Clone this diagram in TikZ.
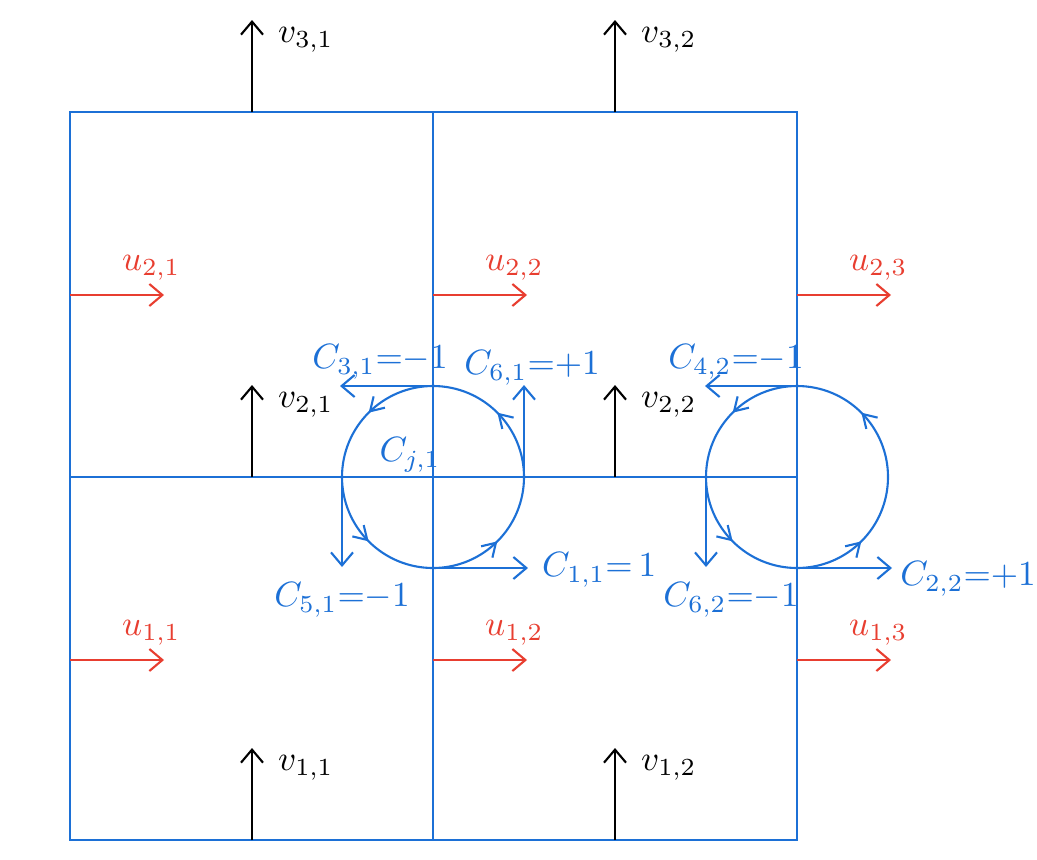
\documentclass[tikz,border=0pt]{standalone}
\usetikzlibrary{decorations.markings,arrows.meta}

\definecolor{gridblue}{RGB}{28,112,214}
\definecolor{ured}{RGB}{232,62,48}

\begin{document}
\begin{tikzpicture}[
    >={Straight Barb[length=1.3mm,width=2.2mm]},
    vel/.style={->,semithick,black},
    uvel/.style={->,semithick,ured},
    cflux/.style={->,semithick,gridblue},
    lab/.style={inner sep=1pt},
    cloop/.style={gridblue,semithick,
        postaction={decorate},
        decoration={markings,mark=between positions 0.125 and 1 step 0.25 with {\arrow{Straight Barb[length=1.3mm,width=1.6mm]}}}}
]
    \useasboundingbox (0,0) rectangle (10.37,8.59);

    % Cells of the grid
    \draw[gridblue,thick] (0.70,0.19) rectangle (7.97,7.47);
    \draw[gridblue,thick] (4.33,0.19) -- (4.33,7.47);
    \draw[gridblue,thick] (0.70,3.82) -- (7.97,3.82);

    % Vertical velocities v_{i,j}
    \foreach \x/\j in {2.52/1,6.15/2} {
        \foreach \y/\i in {0.19/1,3.82/2,7.47/3} {
            \coordinate (v\i\j a) at (\x,\y);
            \coordinate (v\i\j b) at (\x,\y+0.92);
            \draw[vel] (v\i\j a) -- (v\i\j b);
            \node[lab, anchor=west] (lv\i\j) at (\x+0.22,\y+0.72) {$v_{\i,\j}$};
        }
    }

    % Horizontal velocities u_{i,j}
    \foreach \x/\j in {0.70/1,4.33/2,7.97/3} {
        \foreach \y/\i in {1.99/1,5.64/2} {
            \coordinate (u\i\j a) at (\x,\y);
            \coordinate (u\i\j b) at (\x+0.94,\y);
            \draw[uvel] (u\i\j a) -- (u\i\j b);
            \node[lab, ured, anchor=west] (lu\i\j) at (\x+0.48,\y+0.27) {$u_{\i,\j}$};
        }
    }

    % Circulation round the first node
    \coordinate (cj1) at (4.33,3.82);
    \draw[cloop] (cj1) circle (0.91);
    \node[lab, gridblue] (lcj1) at (4.10,4.04) {$C_{j,1}$};
    \coordinate (n1t) at (4.33,4.73);
    \coordinate (n1r) at (5.24,3.82);
    \coordinate (n1l) at (3.42,3.82);
    \coordinate (n1b) at (4.33,2.91);
    \coordinate (c31) at (3.40,4.73);
    \coordinate (c61) at (5.24,4.74);
    \coordinate (c51) at (3.42,2.92);
    \coordinate (c11) at (5.28,2.91);
    \draw[cflux] (n1t) -- (c31);
    \draw[cflux] (n1r) -- (c61);
    \draw[cflux] (n1l) -- (c51);
    \draw[cflux] (n1b) -- (c11);
    \node[lab, gridblue] (l31) at (3.80,4.97) {$C_{3,1}{=}{-1}$};
    \node[lab, gridblue] (l61) at (5.32,4.91) {$C_{6,1}{=}{+1}$};
    \node[lab, gridblue] (l51) at (3.42,2.59) {$C_{5,1}{=}{-1}$};
    \node[lab, gridblue, anchor=west] (l11) at (5.38,2.89) {$C_{1,1}{=}\,1$};

    % Circulation round the second node
    \coordinate (cj2) at (7.97,3.82);
    \draw[cloop] (cj2) circle (0.91);
    \coordinate (n2t) at (7.97,4.73);
    \coordinate (n2l) at (7.06,3.82);
    \coordinate (n2b) at (7.97,2.91);
    \coordinate (c42) at (7.05,4.73);
    \coordinate (c62) at (7.06,2.92);
    \coordinate (c22) at (8.92,2.91);
    \draw[cflux] (n2t) -- (c42);
    \draw[cflux] (n2l) -- (c62);
    \draw[cflux] (n2b) -- (c22);
    \node[lab, gridblue] (l42) at (7.36,4.97) {$C_{4,2}{=}{-1}$};
    \node[lab, gridblue] (l62) at (7.31,2.59) {$C_{6,2}{=}{-1}$};
    \node[lab, gridblue] (l22) at (9.68,2.80) {$C_{2,2}{=}{+1}$};

\end{tikzpicture}
\end{document}
